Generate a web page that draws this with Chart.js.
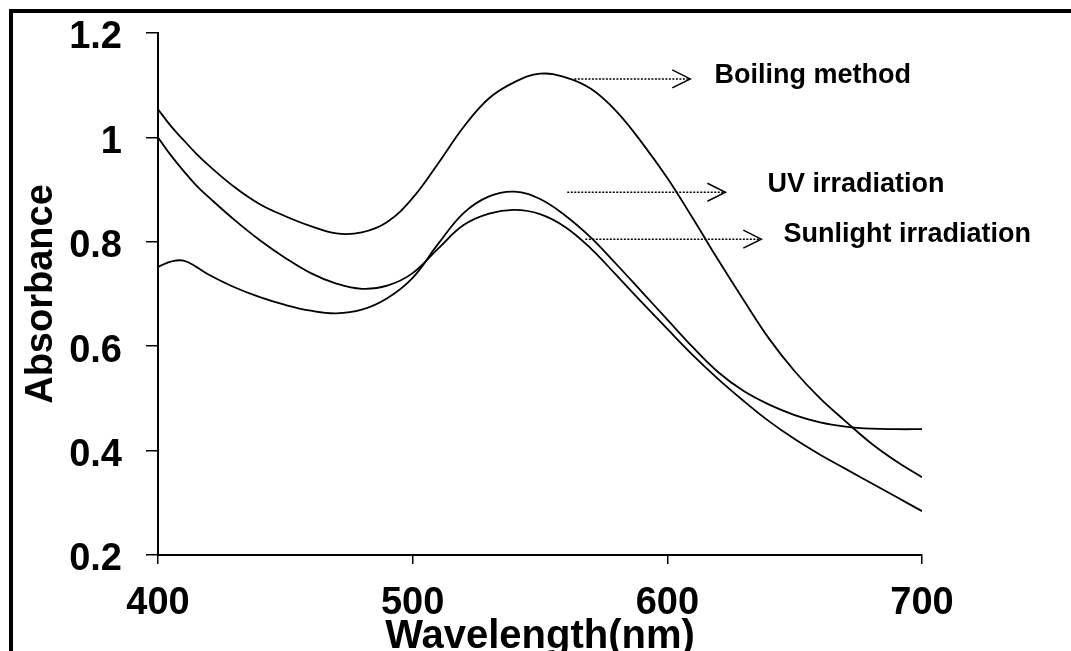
<!DOCTYPE html>
<html lang="en">
<head>
  <meta charset="UTF-8" />
  <title>Absorbance spectra</title>
  <script src="https://cdn.jsdelivr.net/npm/chart.js"></script>
  <style>
    html, body {
      margin: 0;
      padding: 0;
      background: #fff;
      overflow: hidden;
    }
    canvas {
      display: block;
    }
  </style>
</head>
<body>
  <canvas id="spectra" width="1071" height="651"></canvas>

  <script>
    const wavelength = [400, 405, 410, 415, 420, 430, 440, 450, 460, 470, 480, 490, 500, 510, 520, 530, 540, 550,
                        560, 570, 580, 590, 600, 610, 620, 630, 640, 650, 660, 670, 680, 690, 700];
    const boiling = [1.054, 1.022, 0.995, 0.969, 0.946, 0.905, 0.872, 0.849, 0.830, 0.816, 0.818, 0.838, 0.884, 0.950,
                     1.020, 1.075, 1.106, 1.122, 1.115, 1.093, 1.050, 0.990, 0.922, 0.845, 0.765, 0.688, 0.614, 0.552,
                     0.500, 0.456, 0.414, 0.379, 0.349];
    const uvIrradiation = [0.752, 0.762, 0.764, 0.752, 0.737, 0.713, 0.694, 0.679, 0.668, 0.663, 0.670, 0.692, 0.731,
                           0.796, 0.855, 0.887, 0.896, 0.882, 0.850, 0.808, 0.757, 0.704, 0.651, 0.598, 0.550, 0.514,
                           0.488, 0.468, 0.454, 0.446, 0.442, 0.441, 0.441];
    const sunlight = [1.000, 0.966, 0.936, 0.908, 0.885, 0.842, 0.803, 0.769, 0.740, 0.720, 0.710, 0.716, 0.740, 0.787,
                      0.832, 0.854, 0.861, 0.853, 0.828, 0.787, 0.736, 0.684, 0.633, 0.583, 0.537, 0.495, 0.456, 0.422,
                      0.392, 0.365, 0.338, 0.311, 0.284];
    const xTicks = [400, 500, 600, 700];
    const yTicks = [0.2, 0.4, 0.6, 0.8, 1, 1.2];

    // callout labels with dotted arrows, placed in data units
    const labels = ['Boiling method', 'UV irradiation', 'Sunlight irradiation'];
    const arrowFrom = [563.5, 560.7, 567.8];
    const arrowTo = [609.0, 622.8, 636.9];
    const arrowAt = [1.112, 0.895, 0.805];
    const labelX = [618.5, 639.3, 645.6];
    const labelY = [1.119, 0.909, 0.813];

    const FONT = '"Liberation Sans", Arial, sans-serif';
    Chart.defaults.font.family = FONT;
    Chart.defaults.color = '#000';

    const toPoints = (ys) => wavelength.map((w, i) => ({ x: w, y: ys[i] }));

    const lineStyle = {
      borderColor: '#000',
      borderWidth: 1.8,
      pointRadius: 0,
      fill: false,
      tension: 0.4
    };

    // frame round the figure (top and left edges only, the rest is cropped)
    const frame = {
      id: 'frame',
      beforeDraw(chart) {
        const c = chart.ctx;
        c.save();
        c.fillStyle = '#fff';
        c.fillRect(0, 0, chart.width, chart.height);
        c.fillStyle = '#000';
        c.fillRect(9, 9, chart.width - 9, 4);
        c.fillRect(9, 9, 4, chart.height - 9);
        c.restore();
      }
    };

    const callouts = {
      id: 'callouts',
      afterDraw(chart) {
        const { ctx, scales: { x, y } } = chart;
        ctx.save();
        ctx.strokeStyle = '#000';
        ctx.fillStyle = '#000';
        labels.forEach((text, i) => {
          const x0 = x.getPixelForValue(arrowFrom[i]);
          const x1 = x.getPixelForValue(arrowTo[i]);
          const yy = y.getPixelForValue(arrowAt[i]);
          ctx.lineWidth = 1.5;
          ctx.setLineDash([2, 1.5]);
          ctx.beginPath();
          ctx.moveTo(x0, yy);
          ctx.lineTo(x1, yy);
          ctx.stroke();
          ctx.setLineDash([]);
          ctx.beginPath();
          ctx.moveTo(x1 - 18, yy - 9);
          ctx.lineTo(x1, yy);
          ctx.lineTo(x1 - 18, yy + 9);
          ctx.stroke();
          ctx.font = 'bold 27px ' + FONT;
          ctx.textBaseline = 'middle';
          ctx.textAlign = 'left';
          ctx.fillText(text, x.getPixelForValue(labelX[i]), y.getPixelForValue(labelY[i]));
        });
        ctx.restore();
      }
    };

    const chart = new Chart(document.getElementById('spectra'), {
      type: 'line',
      data: {
        datasets: [
          Object.assign({ label: labels[0], data: toPoints(boiling) }, lineStyle),
          Object.assign({ label: labels[1], data: toPoints(uvIrradiation) }, lineStyle),
          Object.assign({ label: labels[2], data: toPoints(sunlight) }, lineStyle)
        ]
      },
      options: {
        responsive: false,
        animation: false,
        layout: {
          padding: { left: 0, top: 33, right: 149, bottom: 0 }
        },
        plugins: {
          legend: { display: false },
          tooltip: { enabled: false }
        },
        scales: {
          x: {
            type: 'linear',
            min: 400,
            max: 700,
            afterBuildTicks: (s) => { s.ticks = xTicks.map(v => ({ value: v })); },
            afterFit: (s) => { s.height = 96; },
            ticks: {
              font: { size: 38, weight: 'bold' },
              color: '#000',
              padding: 17,
              maxRotation: 0,
              autoSkip: false,
              callback: (v) => String(v)
            },
            grid: {
              drawOnChartArea: false,
              drawTicks: true,
              tickLength: 9,
              color: '#000',
              lineWidth: 1.5
            },
            border: { color: '#000', width: 2 },
            title: {
              display: true,
              text: 'Wavelength(nm)',
              color: '#000',
              font: { size: 40, weight: 'bold' },
              padding: { top: 0, bottom: -10 }
            }
          },
          y: {
            type: 'linear',
            min: 0.2,
            max: 1.2,
            afterBuildTicks: (s) => { s.ticks = yTicks.map(v => ({ value: v })); },
            afterFit: (s) => {
              s.width = 158;
              // keep the tick label padding from pushing the plot area down
              s.paddingTop = 0;
              s.paddingBottom = 0;
            },
            ticks: {
              font: { size: 38, weight: 'bold' },
              color: '#000',
              padding: 24,
              labelOffset: 5,
              autoSkip: false,
              callback: (v) => String(v)
            },
            grid: {
              drawOnChartArea: false,
              drawTicks: true,
              tickLength: 12,
              color: '#000',
              lineWidth: 1.5
            },
            border: { color: '#000', width: 2 },
            title: {
              display: true,
              text: 'Absorbance',
              color: '#000',
              font: { size: 38, weight: 'bold' },
              padding: { top: 19, bottom: 0 }
            }
          }
        }
      },
      plugins: [frame, callouts]
    });
  </script>
</body>
</html>
